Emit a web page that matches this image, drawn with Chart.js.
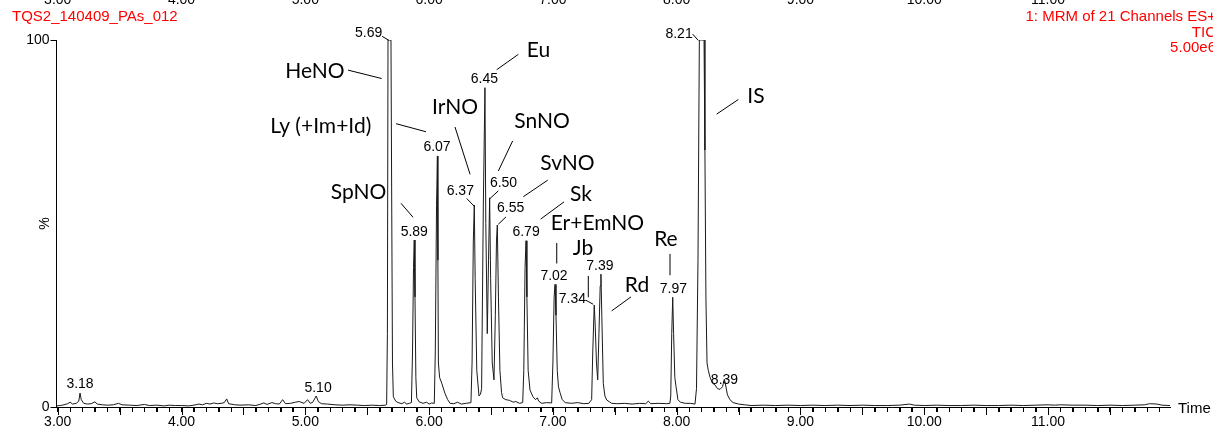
<!DOCTYPE html>
<html>
<head>
<meta charset="utf-8">
<script src="https://cdn.jsdelivr.net/npm/chart.js@4.4.0/dist/chart.umd.min.js"></script>
<style>
  html, body { margin: 0; padding: 0; background: #fff; }
  #wrap { width: 1213px; height: 428px; position: relative; }
</style>
</head>
<body>
<div id="wrap"><canvas id="chart"></canvas></div>
<script>
// chromatogram trace: retention time (min) and relative intensity (%)
const retTimes = [
  2.99, 3.02, 3.05, 3.08, 3.10, 3.12, 3.15, 3.17, 3.18, 3.19, 3.21, 3.24, 3.27, 3.30, 3.32, 3.36,
  3.40, 3.45, 3.49, 3.52, 3.58, 3.64, 3.70, 3.74, 3.80, 3.86, 3.90, 3.95, 4.00, 4.06, 4.10, 4.14,
  4.17, 4.20, 4.23, 4.26, 4.29, 4.32, 4.345, 4.365, 4.38, 4.43, 4.48, 4.54, 4.60, 4.64, 4.665, 4.69,
  4.73, 4.76, 4.79, 4.817, 4.84, 4.88, 4.92, 4.95, 4.99, 5.018, 5.04, 5.06, 5.088, 5.105, 5.13, 5.18,
  5.24, 5.30, 5.36, 5.42, 5.48, 5.54, 5.60, 5.65,
  5.657, 5.663, 5.668, 5.692, 5.698, 5.704, 5.711, 5.730, 5.749, 5.78, 5.80, 5.82, 5.84,
  5.857, 5.866, 5.874, 5.880, 5.886, 5.893, 5.900, 5.92, 5.95, 5.98, 6.00, 6.02,
  6.042, 6.050, 6.060, 6.067, 6.071, 6.075, 6.085, 6.102, 6.128, 6.15, 6.169, 6.20, 6.23, 6.26, 6.30,
  6.338, 6.347, 6.357, 6.365, 6.372, 6.385, 6.403, 6.415, 6.424, 6.438, 6.451, 6.458, 6.470,
  6.480, 6.489, 6.497, 6.510, 6.524, 6.535, 6.544, 6.551, 6.560, 6.572, 6.585, 6.594,
  6.62, 6.65, 6.68, 6.70, 6.73, 6.756, 6.765, 6.775, 6.783, 6.790, 6.800, 6.815, 6.839, 6.86, 6.874,
  6.885, 6.91, 6.95, 6.99, 7.000, 7.010, 7.017, 7.025, 7.035, 7.045, 7.057, 7.075, 7.10, 7.15, 7.20,
  7.25, 7.29, 7.313, 7.322, 7.334, 7.342, 7.352, 7.362, 7.372, 7.382, 7.388, 7.395, 7.407, 7.420,
  7.435, 7.475, 7.52, 7.58, 7.64, 7.70, 7.75, 7.771, 7.79, 7.85, 7.92, 7.945,
  7.952, 7.960, 7.968, 7.975, 7.985, 7.995, 8.01, 8.03, 8.07, 8.11,
  8.148, 8.160, 8.172, 8.183, 8.221, 8.228, 8.236, 8.245, 8.255, 8.270, 8.29, 8.31, 8.33, 8.35,
  8.37, 8.385, 8.395, 8.410, 8.43, 8.455, 8.50, 8.55, 8.60, 8.70, 8.80, 8.90, 9.00, 9.10, 9.20,
  9.30, 9.40, 9.50, 9.60, 9.70, 9.80, 9.88, 9.92, 10.00, 10.10, 10.20, 10.30, 10.40, 10.50, 10.60,
  10.70, 10.80, 10.90, 11.00, 11.05, 11.10, 11.20, 11.30, 11.40, 11.50, 11.60, 11.70, 11.78, 11.82,
  11.88, 11.92, 11.985
];
const intensity = [
  0.3, 0.4, 0.6, 0.9, 1.3, 0.8, 1.0, 1.6, 3.8, 2.0, 1.0, 0.8, 0.9, 1.4, 0.8, 0.6,
  0.5, 0.6, 1.0, 0.6, 0.5, 0.4, 0.7, 0.4, 0.5, 0.3, 0.5, 0.4, 0.4, 0.3, 0.5, 0.8,
  0.6, 1.0, 0.8, 1.1, 0.9, 1.0, 1.2, 2.2, 0.9, 0.6, 0.5, 0.6, 0.4, 0.8, 1.1, 0.7,
  1.2, 0.9, 0.8, 2.0, 0.9, 1.0, 1.3, 1.5, 1.0, 2.0, 1.0, 1.3, 3.0, 1.5, 0.9, 0.8,
  0.6, 0.5, 0.6, 0.5, 0.4, 0.5, 0.4, 0.5,
  0.8, 20, 100, 100, 55, 12, 2.8, 1.6, 1.2, 0.9, 1.3, 0.8, 1.0,
  1.2, 15, 38, 45.5, 30, 8, 2.5, 1.4, 1.0, 1.3, 0.8, 1.1,
  1.0, 15, 55, 68.4, 40, 12, 8, 6.5, 3.7, 2.0, 1.0, 0.9, 1.3, 0.8, 1.0,
  1.2, 12, 45, 55, 35, 10, 3, 3.5, 5, 55, 87, 50, 20,
  40, 57, 35, 12, 7.4, 25, 45, 49.6, 30, 10, 4, 2.5,
  2.0, 1.8, 1.3, 1.5, 1.0, 1.2, 10, 38, 45.3, 30, 10, 4.6, 2.8, 2.0, 2.5,
  1.6, 1.0, 1.2, 1.1, 12, 30, 33.4, 25, 10, 5.5, 4, 2, 1.2, 1.0, 1.2,
  0.9, 1.0, 2, 15, 27.8, 22, 12, 7.4, 20, 33, 36.2, 25, 6.4, 3,
  1.9, 1.0, 0.9, 1.0, 0.8, 1.0, 0.9, 1.6, 0.9, 1.0, 0.9, 1.0,
  3, 20, 29.9, 20, 8, 5.5, 2, 1.3, 1.0, 1.0,
  0.8, 5, 40, 100, 100, 70, 30, 12, 10, 8, 6.5, 6, 5, 4.8,
  5.5, 7.6, 6, 3.3, 2.0, 1.2, 0.8, 0.6, 0.4, 0.5, 0.4, 0.5, 0.4, 0.5, 0.4,
  0.5, 0.4, 0.5, 0.4, 0.4, 0.5, 0.8, 0.5, 0.4, 0.5, 0.4, 0.4, 0.5, 0.4, 0.4,
  0.5, 0.4, 0.5, 0.6, 0.5, 0.6, 0.5, 0.5, 0.4, 0.5, 0.4, 0.5, 0.6, 0.9,
  0.8, 0.5, 0.4
];

// x axis tick labels (also the cut-off row of the chart above)
const timeTicks = [3, 4, 5, 6, 7, 8, 9, 10, 11];
const yTicks = [0, 100];

// peak retention-time labels
const peakLabels = ['3.18', '5.10', '5.69', '5.89', '6.07', '6.37', '6.45', '6.50', '6.55',
  '6.79', '7.02', '7.34', '7.39', '7.97', '8.21', '8.39'];
// compound names
const compoundNames = ['HeNO', 'Ly (+Im+Id)', 'SpNO', 'IrNO', 'Eu', 'SnNO', 'SvNO', 'Sk',
  'Er+EmNO', 'Jb', 'Rd', 'Re', 'IS'];

const headerLeft = 'TQS2_140409_PAs_012';
const headerRight = ['1: MRM of 21 Channels ES+', 'TIC', '5.00e6'];

// placement of the annotations, in (time, %) units: text centre, then optional leader line
const peakLabelPos = [
  [3.180, 6.3], [5.103, 5.2], [5.511, 101.8, 5.620, 101.0, 5.676, 99.9], [5.880, 47.7], [6.064, 70.7],
  [6.252, 58.9, 6.304, 56.8, 6.365, 54.7], [6.447, 89.2], [6.601, 61.1, 6.559, 58.9, 6.492, 56.8],
  [6.659, 54.1, 6.621, 51.8, 6.559, 49.8], [6.783, 47.6], [7.009, 35.7],
  [7.158, 29.4, 7.266, 29.1, 7.325, 28.0], [7.380, 38.3], [7.973, 32.0],
  [8.019, 101.7, 8.129, 101.6, 8.174, 99.9], [8.386, 7.4]
];
const compoundPos = [
  [5.078, 91.5, 5.345, 91.8, 5.617, 89.5],
  [5.125, 76.5, 5.733, 77.2, 5.975, 75.0],
  [5.430, 58.5, 5.773, 55.5, 5.870, 51.7],
  [6.209, 81.8, 6.209, 76.3, 6.331, 63.4],
  [6.884, 97.2, 6.721, 96.1, 6.546, 91.9],
  [6.912, 77.9, 6.675, 72.5, 6.559, 64.3],
  [7.118, 66.3, 6.958, 61.8, 6.761, 57.3],
  [7.227, 57.9, 7.090, 55.9, 6.901, 51.2],
  [7.360, 50.2, 7.031, 44.7, 7.031, 39.1],
  [7.243, 43.3, 7.286, 35.7, 7.286, 29.9],
  [7.679, 33.2, 7.631, 30.0, 7.475, 26.2],
  [7.913, 45.7, 7.946, 41.7, 7.946, 35.9],
  [8.640, 84.7, 8.498, 83.8, 8.323, 79.8]
];

const points = retTimes.map((t, i) => ({ x: t, y: intensity[i] }));

// tick marks (short every 0.1 min, long every 0.5 min), labels and red header text
const annotate = {
  id: 'annotate',
  afterDraw(chart) {
    const c = chart.ctx;
    const xs = chart.scales.x;
    const ys = chart.scales.y;
    const area = chart.chartArea;
    const px = t => xs.getPixelForValue(t);
    const py = v => ys.getPixelForValue(v);

    c.save();
    c.fillStyle = '#000';
    xs.ticks.forEach(tk => {
      const v = tk.value;
      if (Math.abs(v * 10 - Math.round(v * 10)) > 1e-6) return;
      const major = Math.abs(v * 2 - Math.round(v * 2)) < 1e-6;
      c.fillRect(Math.round(px(v)), area.bottom, 1, major ? 8 : 5);
    });

    // cut-off tick row of the chart above
    c.font = '14px "Liberation Sans", Arial, sans-serif';
    c.textAlign = 'center';
    c.textBaseline = 'alphabetic';
    timeTicks.forEach(t => c.fillText(t.toFixed(2), px(t), 4));

    // axis titles
    c.textBaseline = 'middle';
    c.textAlign = 'left';
    c.font = '15px "Liberation Sans", Arial, sans-serif';
    c.fillText('Time', area.right + 8, area.bottom + 2);
    c.save();
    c.translate(area.left - 11, py(50));
    c.rotate(-Math.PI / 2);
    c.textAlign = 'center';
    c.font = '14px "Liberation Sans", Arial, sans-serif';
    c.fillText('%', 0, 0);
    c.restore();

    // header
    c.fillStyle = '#ff0000';
    c.font = '15px "Liberation Sans", Arial, sans-serif';
    c.textAlign = 'left';
    c.fillText(headerLeft, 12, 17);
    c.textAlign = 'right';
    headerRight.forEach((s, i) => c.fillText(s, 1216, 17 + i * 15.5));

    // retention time labels
    c.fillStyle = '#000';
    c.strokeStyle = '#000';
    c.lineWidth = 1;
    c.font = '14px "Liberation Sans", Arial, sans-serif';
    c.textAlign = 'center';
    peakLabels.forEach((s, i) => {
      const p = peakLabelPos[i];
      c.fillText(s, px(p[0]), py(p[1]));
      if (p.length > 2) {
        c.beginPath();
        c.moveTo(px(p[2]), py(p[3]));
        c.lineTo(px(p[4]), py(p[5]));
        c.stroke();
      }
    });

    // compound names
    c.font = '21px Lato, "Open Sans", sans-serif';
    compoundNames.forEach((s, i) => {
      const p = compoundPos[i];
      c.fillText(s, px(p[0]), py(p[1]));
      c.beginPath();
      c.moveTo(px(p[2]), py(p[3]));
      c.lineTo(px(p[4]), py(p[5]));
      c.stroke();
    });
    c.restore();
  }
};

new Chart(document.getElementById('chart').getContext('2d'), {
  type: 'line',
  data: {
    datasets: [{
      data: points,
      borderColor: '#1a1a1a',
      borderWidth: 1,
      pointRadius: 0,
      tension: 0,
      fill: false
    }]
  },
  options: {
    responsive: true,
    maintainAspectRatio: false,
    animation: false,
    events: [],
    layout: { padding: { top: 40, right: 43, left: 0, bottom: 0 } },
    plugins: { legend: { display: false }, tooltip: { enabled: false } },
    scales: {
      x: {
        type: 'linear',
        min: 2.99,
        max: 11.985,
        afterFit: s => { s.height = 21; },
        grid: { display: true, drawOnChartArea: false, drawTicks: true, tickLength: 5, color: '#000', lineWidth: 1 },
        border: { display: true, color: '#000', width: 1 },
        ticks: {
          stepSize: 0.1,
          includeBounds: false,
          autoSkip: false,
          maxRotation: 0,
          padding: 2,
          color: '#000',
          font: { family: '"Liberation Sans", Arial, sans-serif', size: 14 },
          callback: v => (timeTicks.some(t => Math.abs(t - v) < 1e-6) ? v.toFixed(2) : '')
        }
      },
      y: {
        min: 0,
        max: 100,
        afterFit: s => { s.width = 56.5; },
        afterBuildTicks: s => { s.ticks = yTicks.map(v => ({ value: v })); },
        grid: { display: true, drawOnChartArea: false, tickLength: 6, color: '#000' },
        border: { display: true, color: '#000', width: 1 },
        ticks: {
          padding: 1,
          color: '#000',
          font: { family: '"Liberation Sans", Arial, sans-serif', size: 14 }
        }
      }
    }
  },
  plugins: [annotate]
});
</script>
</body>
</html>
